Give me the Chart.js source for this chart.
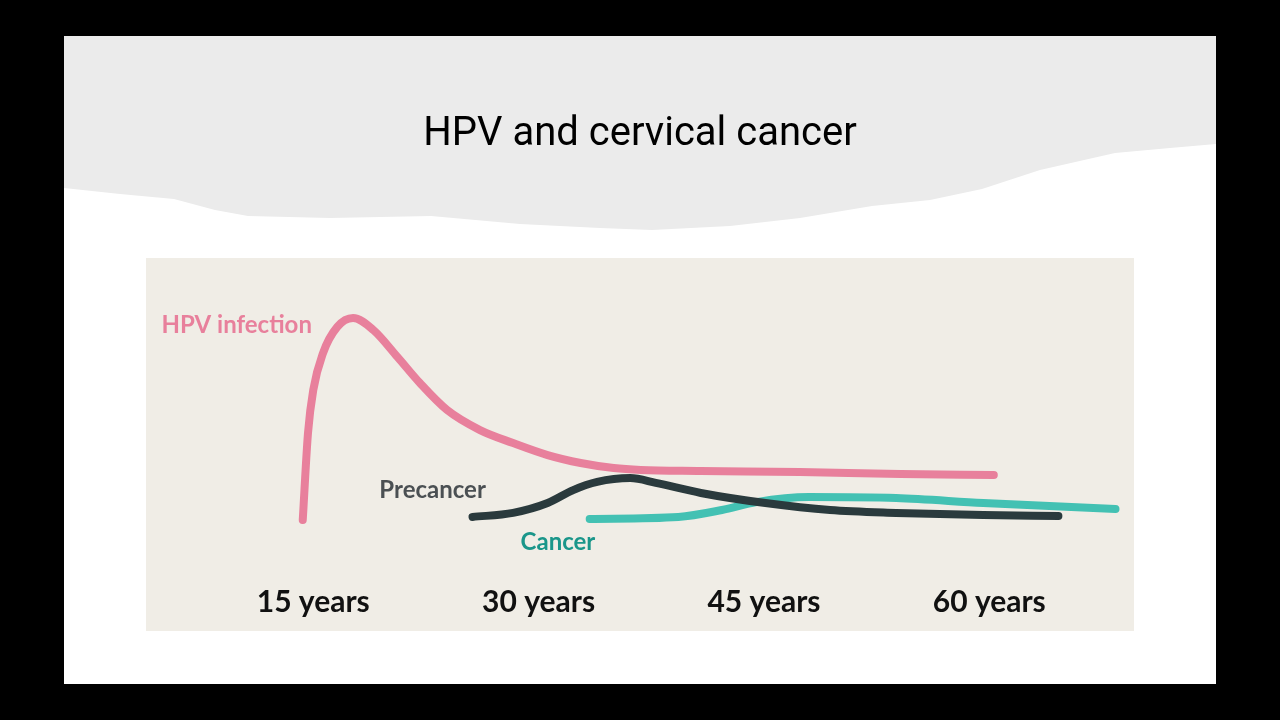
<!DOCTYPE html>
<html>
<head>
<meta charset="utf-8">
<title>HPV and cervical cancer</title>
<script src="https://cdn.jsdelivr.net/npm/chart.js@4.4.1/dist/chart.umd.min.js"></script>
<style>
  html, body { margin: 0; padding: 0; background: #000; }
  #wrap { width: 1280px; height: 720px; position: relative; }
</style>
</head>
<body>
<div id="wrap"><canvas id="chart" width="1280" height="720"></canvas></div>
<script>
// age (years) and relative level (0-100)
var hpvAges = [14.3, 14.65, 15.0, 15.65, 16.6, 17.65, 19.0, 20.6, 22.1, 23.9, 26.1, 28.3, 30.6, 32.8, 35.0, 36.8, 40.8, 47.4, 54.1, 60.3];
var hpvValues = [8.3, 44.6, 62.5, 77.9, 88.8, 92.5, 87.5, 76.3, 65.4, 54.2, 45.8, 40.4, 35.4, 32.1, 30.0, 29.2, 28.8, 28.3, 27.5, 27.1];

var precancerAges = [25.6, 28.3, 30.6, 32.3, 33.9, 36.1, 37.8, 40.8, 45.1, 49.4, 53.8, 59.6, 64.6];
var precancerValues = [9.6, 11.3, 15.4, 20.8, 24.2, 25.8, 23.8, 19.6, 15.4, 12.5, 11.3, 10.4, 10.0];

var cancerAges = [33.4, 39.3, 42.2, 44.5, 48.0, 53.8, 59.6, 68.4];
var cancerValues = [8.8, 9.6, 12.5, 15.8, 17.9, 17.5, 15.4, 12.9];

var tickAges = [15, 30, 45, 60];

// curve labels: text, anchor age, anchor level
var labelTexts = ['HPV infection', 'Precancer', 'Cancer'];
var labelAges = [4.9, 19.4, 28.8];
var labelValues = [89.6, 20.8, -0.8];

var pink = '#e8809c';
var dark = '#2a3a3d';
var teal = '#43c1b3';

function toPoints(ages, values) {
  var pts = [];
  for (var i = 0; i < ages.length; i++) {
    pts.push({x: ages[i], y: values[i]});
  }
  return pts;
}

var slidePlugin = {
  id: 'slide',
  beforeDraw: function (chart) {
    var ctx = chart.ctx;
    ctx.save();
    ctx.fillStyle = '#000';
    ctx.fillRect(0, 0, 1280, 720);
    ctx.fillStyle = '#ffffff';
    ctx.fillRect(64, 36, 1152, 648);

    // torn grey header
    var edge = [[64, 188], [120, 194], [174, 199], [215, 210], [248, 216], [330, 218], [431, 216], [520, 224],
      [600, 228], [652, 230], [730, 226], [800, 218], [872, 206], [930, 200], [982, 189], [1040, 170],
      [1115, 153], [1170, 148], [1216, 144]];
    ctx.fillStyle = '#ebebeb';
    ctx.beginPath();
    ctx.moveTo(64, 36);
    ctx.lineTo(1216, 36);
    for (var i = edge.length - 1; i >= 0; i--) {
      ctx.lineTo(edge[i][0], edge[i][1]);
    }
    ctx.closePath();
    ctx.fill();

    ctx.fillStyle = '#000';
    ctx.font = '40px Roboto, "Liberation Sans", sans-serif';
    ctx.textAlign = 'center';
    ctx.textBaseline = 'alphabetic';
    ctx.fillText('HPV and cervical cancer', 640, 145);

    ctx.fillStyle = '#f0ede6';
    ctx.fillRect(146, 258, 988, 373);
    ctx.restore();
  },
  afterDatasetsDraw: function (chart) {
    var ctx = chart.ctx;
    var xs = chart.scales.x;
    var ys = chart.scales.y;
    var colors = [pink, '#4b5053', '#1a968a'];
    ctx.save();
    ctx.textAlign = 'left';
    ctx.textBaseline = 'middle';
    ctx.font = 'bold 24px Lato, "Noto Sans", sans-serif';
    for (var i = 0; i < labelTexts.length; i++) {
      ctx.fillStyle = colors[i];
      ctx.fillText(labelTexts[i], xs.getPixelForValue(labelAges[i]), ys.getPixelForValue(labelValues[i]));
    }
    ctx.restore();
  }
};

var line = function (label, ages, values, color, order) {
  return {
    label: label,
    data: toPoints(ages, values),
    borderColor: color,
    borderWidth: 8,
    borderCapStyle: 'round',
    borderJoinStyle: 'round',
    cubicInterpolationMode: 'monotone',
    pointRadius: 0,
    fill: false,
    order: order,
    clip: false
  };
};

new Chart(document.getElementById('chart'), {
  type: 'line',
  data: {
    datasets: [
      line('Precancer', precancerAges, precancerValues, dark, 0),
      line('Cancer', cancerAges, cancerValues, teal, 1),
      line('HPV infection', hpvAges, hpvValues, pink, 2)
    ]
  },
  options: {
    responsive: false,
    animation: false,
    layout: {padding: {left: 148, right: 163, top: 300, bottom: 100}},
    plugins: {legend: {display: false}, tooltip: {enabled: false}},
    scales: {
      x: {
        type: 'linear',
        min: 4,
        max: 68.5,
        grid: {display: false, drawTicks: false},
        border: {display: false},
        afterBuildTicks: function (scale) {
          scale.ticks = tickAges.map(function (v) { return {value: v}; });
        },
        afterFit: function (scale) { scale.height = 80; },
        ticks: {
          padding: 44,
          color: '#111',
          font: {family: 'Lato, "Noto Sans", sans-serif', size: 30, weight: 'bold'},
          maxRotation: 0,
          autoSkip: false,
          callback: function (v) { return v + ' years'; }
        }
      },
      y: {display: false, min: 0, max: 100}
    }
  },
  plugins: [slidePlugin]
});
</script>
</body>
</html>
